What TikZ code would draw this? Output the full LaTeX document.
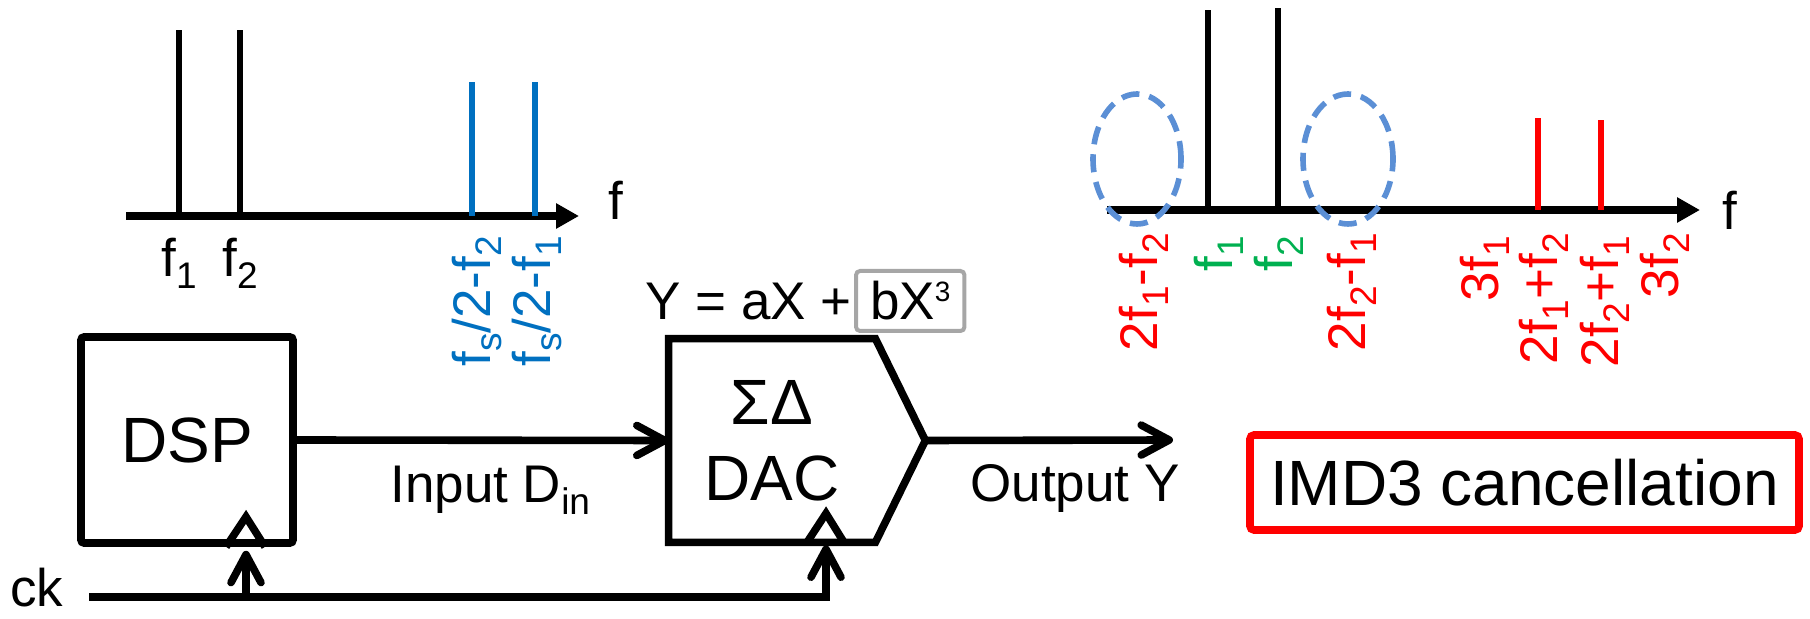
\documentclass[tikz,border=0pt]{standalone}
\usepackage{fontspec}
\setmainfont{Liberation Sans}
\usetikzlibrary{positioning, arrows.meta, calc}

\definecolor{specblue}{RGB}{0,112,192}
\definecolor{ringblue}{RGB}{91,143,213}
\definecolor{imdred}{RGB}{255,0,0}
\definecolor{tonegreen}{RGB}{0,176,80}
\definecolor{boxgray}{RGB}{166,166,166}

\newcommand{\lo}[1]{\raisebox{-0.22em}{\fontsize{18.5pt}{20pt}\selectfont #1}}
\newcommand{\hi}[1]{\raisebox{9pt}{\fontsize{14pt}{15pt}\selectfont #1}}

\begin{document}
\begin{tikzpicture}[
		x=0.5pt, y=-0.5pt,
		wire/.style={line width=3.8pt},
		arr/.style={wire, -{Straight Barb[length=14pt, width=15pt, round]}},
		axis/.style={line width=3.8pt, -{Triangle[length=11.5pt, width=12pt]}},
		spike/.style={line width=3.3pt},
		lbl/.style={font=\fontsize{26.5pt}{30pt}\selectfont, inner sep=0pt},
		big/.style={font=\fontsize{32pt}{38pt}\selectfont, align=center, inner sep=0pt},
		block/.style={draw, line width=3.8pt, rounded corners=1.5pt, minimum width=106pt, minimum height=103pt, big},
		vlbl/.style={lbl, rotate=90},
		ring/.style={draw=ringblue, line width=2.8pt, dash pattern=on 9pt off 5pt}
		]
		\useasboundingbox (0,0) rectangle (1810,619);
		
		% 1. Input spectrum
		\draw[axis] (126,216) -- (579,216);
		\node[lbl, anchor=base west] (fin) at (608,220) {f};
		\foreach \x in {179,240}
			\draw[spike] (\x,216) -- (\x,30);
		\foreach \x in {472,535}
			\draw[spike, specblue] (\x,216) -- (\x,82);
		\node[lbl, anchor=base west] (fone) at (161,277) {f\lo{1}};
		\node[lbl, anchor=base west] (ftwo) at (222,277) {f\lo{2}};
		\node[vlbl, specblue, anchor=base west] (imgtwo) at (490,367) {f\lo{s}/2-f\lo{2}};
		\node[vlbl, specblue, anchor=base west] (imgone) at (550,367) {f\lo{s}/2-f\lo{1}};
		
		% 2. DSP block
		\node[block] (dsp) at (187,440) {DSP};
		
		% 3. Sigma-delta DAC
		\node[big, minimum width=103pt, minimum height=101.5pt] (dac) at (772,440.5) {ΣΔ\\DAC};
		\coordinate (dacout) at ($(dac.east)+(50,0)$);
		\draw[wire] (dac.north west) -- (dac.north east) -- (dacout) -- (dac.south east) -- (dac.south west) -- cycle;
		
		% 4. Nonlinearity
		\node[lbl, anchor=base west] (eq) at (645,320) {Y = aX +};
		\node[lbl, draw=boxgray, line width=2pt, rounded corners=2pt, inner xsep=7pt, inner ysep=5.5pt, text height=19pt, text depth=0pt, anchor=base west] (cubic) at ([xshift=1pt]eq.base east) {bX\hi{3}};
		
		% 5. Clock inputs
		\draw[wire] ($(dsp.south)+(39,0)$) -- ($(dsp.south)+(59,-30)$) -- ($(dsp.south)+(78,0)$);
		\draw[wire] ($(dac.south)+(35,0)$) -- ($(dac.south)+(54,-29)$) -- ($(dac.south)+(72,0)$);
		\coordinate (ckin) at (89,597);
		\coordinate (dspclk) at ($(dsp.south)+(59,4)$);
		\coordinate (dacclk) at ($(dac.south)+(54,3)$);
		\node[lbl, anchor=base west] (ck) at (10,607) {ck};
		\draw[arr] (ckin) -| (dacclk);
		\draw[arr] (ckin -| dspclk) -- (dspclk);
		
		% 6. Signal path
		\coordinate (yout) at (1173,440);
		\draw[arr] (dsp.east) -- (dac.west);
		\draw[arr] (dacout) -- (yout);
		\node[lbl, anchor=base west] (inlbl) at (390,503) {Input D\lo{in}};
		\node[lbl, anchor=base west] (outlbl) at (970,502) {Output Y};
		
		% 7. Output spectrum
		\draw[axis] (1107,210) -- (1700,210);
		\node[lbl, anchor=base west] (fout) at (1722,230) {f};
		\draw[spike] (1208,210) -- (1208,10);
		\draw[spike] (1278,210) -- (1278,8);
		\draw[spike, imdred] (1538,210) -- (1538,118);
		\draw[spike, imdred] (1601,210) -- (1601,120);
		\draw[ring] (1137,159) ellipse [x radius=22pt, y radius=32.5pt];
		\draw[ring] (1348,159) ellipse [x radius=22.5pt, y radius=32.5pt];
		\node[vlbl, imdred, anchor=base east] (imlo) at (1157,233) {2f\lo{1}-f\lo{2}};
		\node[vlbl, tonegreen, anchor=base east] (tone) at (1232,236) {f\lo{1}};
		\node[vlbl, tonegreen, anchor=base east] (ttwo) at (1292,236) {f\lo{2}};
		\node[vlbl, imdred, anchor=base east] (imhi) at (1365,233) {2f\lo{2}-f\lo{1}};
		\node[vlbl, imdred, anchor=base east] (hone) at (1498,236) {3f\lo{1}};
		\node[vlbl, imdred, anchor=base east] (sone) at (1557,233) {2f\lo{1}+f\lo{2}};
		\node[vlbl, imdred, anchor=base east] (stwo) at (1618,236) {2f\lo{2}+f\lo{1}};
		\node[vlbl, imdred, anchor=base east] (htwo) at (1678,233) {3f\lo{2}};
		
		% 8. Result
		\node[big, draw=imdred, line width=3.8pt, rounded corners=2pt, minimum width=274.5pt, minimum height=47.5pt] (imd) at (1524.5,482.5) {IMD3 cancellation};
		
	\end{tikzpicture}
\end{document}
